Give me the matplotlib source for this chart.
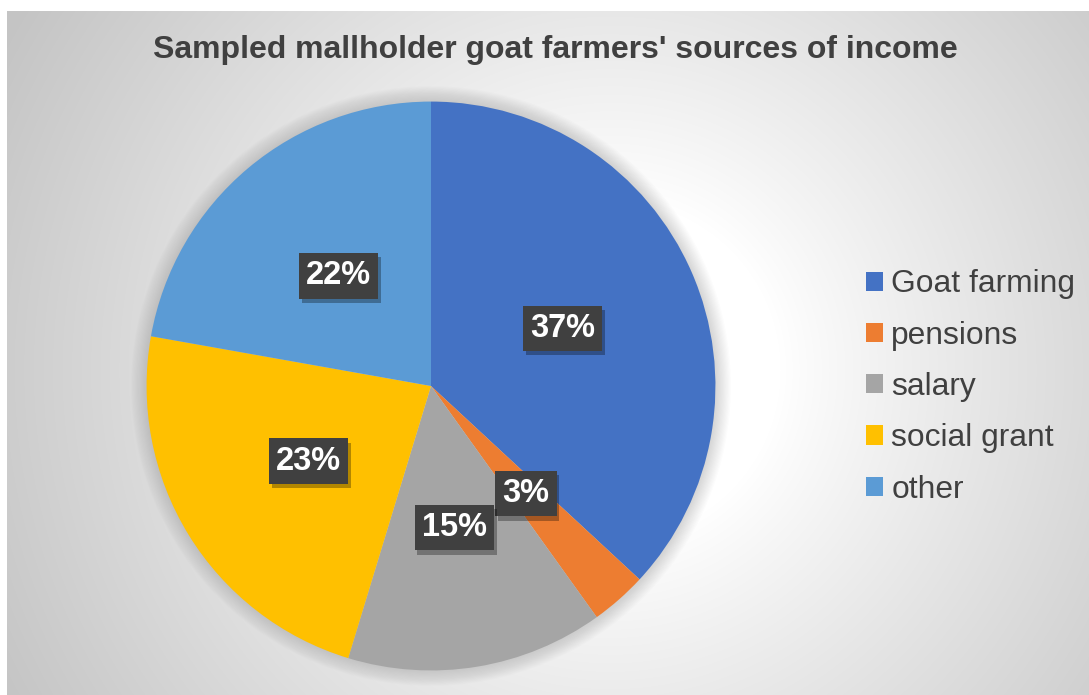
import numpy as np
import matplotlib
matplotlib.use('Agg')
import matplotlib.pyplot as plt
from matplotlib.patches import Circle
import matplotlib.patheffects as pe

plt.rcParams['font.family'] = ['Liberation Sans', 'DejaVu Sans']

# data (share of respondents, %)
categories = ['Goat farming', 'pensions', 'salary', 'social grant', 'other']
shares = [36.9, 3.2, 14.6, 23.1, 22.2]
colors = ['#4472C4', '#ED7D31', '#A5A5A5', '#FFC000', '#5B9BD5']
title = "Sampled mallholder goat farmers' sources of income"

W, H = 1089, 695
fig = plt.figure(figsize=(W / 100, H / 100), dpi=100, facecolor='white')

# background: radial gradient over the chart area
bg = fig.add_axes([7 / W, 0, 1 - 7 / W, (H - 11) / H], zorder=-10)
yy, xx = np.mgrid[11:H, 7:W]
d = np.hypot(xx - 610, yy - 370)
g = np.clip((d - 170) / 520, 0, 1) ** 0.9
shade = 1 - 0.23 * g
bg.imshow(np.dstack([shade] * 3), aspect='auto', extent=(0, 1, 0, 1), origin='upper')
bg.set_xlim(0, 1)
bg.set_ylim(0, 1)
bg.axis('off')

# pie
R = 285
ax = fig.add_axes([(431 - R) / W, (H - 386 - R) / H, 2 * R / W, 2 * R / H])
ax.set_facecolor('none')
for i in range(14):
    ax.add_patch(Circle((0, 0), 1.0 + i * 0.004, color='#707070', alpha=0.02,
                        lw=0, zorder=0, clip_on=False))

wedges, texts, autotexts = ax.pie(
    shares, colors=colors, startangle=90, counterclock=False, radius=0.998,
    autopct='%.0f%%', pctdistance=0.505,
    wedgeprops=dict(linewidth=0),
    textprops=dict(color='white', fontsize=23.5, fontweight='bold'))
for w in wedges:
    w.set_zorder(2)
for t in autotexts:
    t.set_zorder(5)
    t.set_bbox(dict(boxstyle='square,pad=0.22', fc='#404040', ec='none', lw=0))
    t.get_bbox_patch().set_path_effects([
        pe.SimplePatchShadow(offset=(2, -3), shadow_rgbFace='black', alpha=0.3), pe.Normal()])
ax.set_xlim(-1, 1)
ax.set_ylim(-1, 1)
ax.set_aspect('equal')

fig.text(555 / W, 1 - 50 / H, title, ha='center', va='center',
         fontsize=23, fontweight='bold', color='#404040')

fig.legend(wedges, categories, loc='center left', bbox_to_anchor=(866 / W, 1 - 387 / H),
           bbox_transform=fig.transFigure, frameon=False, fontsize=22.9,
           labelcolor='#404040', handlelength=0.55, handleheight=0.55,
           handletextpad=0.25, labelspacing=0.67, borderpad=0, borderaxespad=0)

fig.savefig('out.png', dpi=100, facecolor='white')
